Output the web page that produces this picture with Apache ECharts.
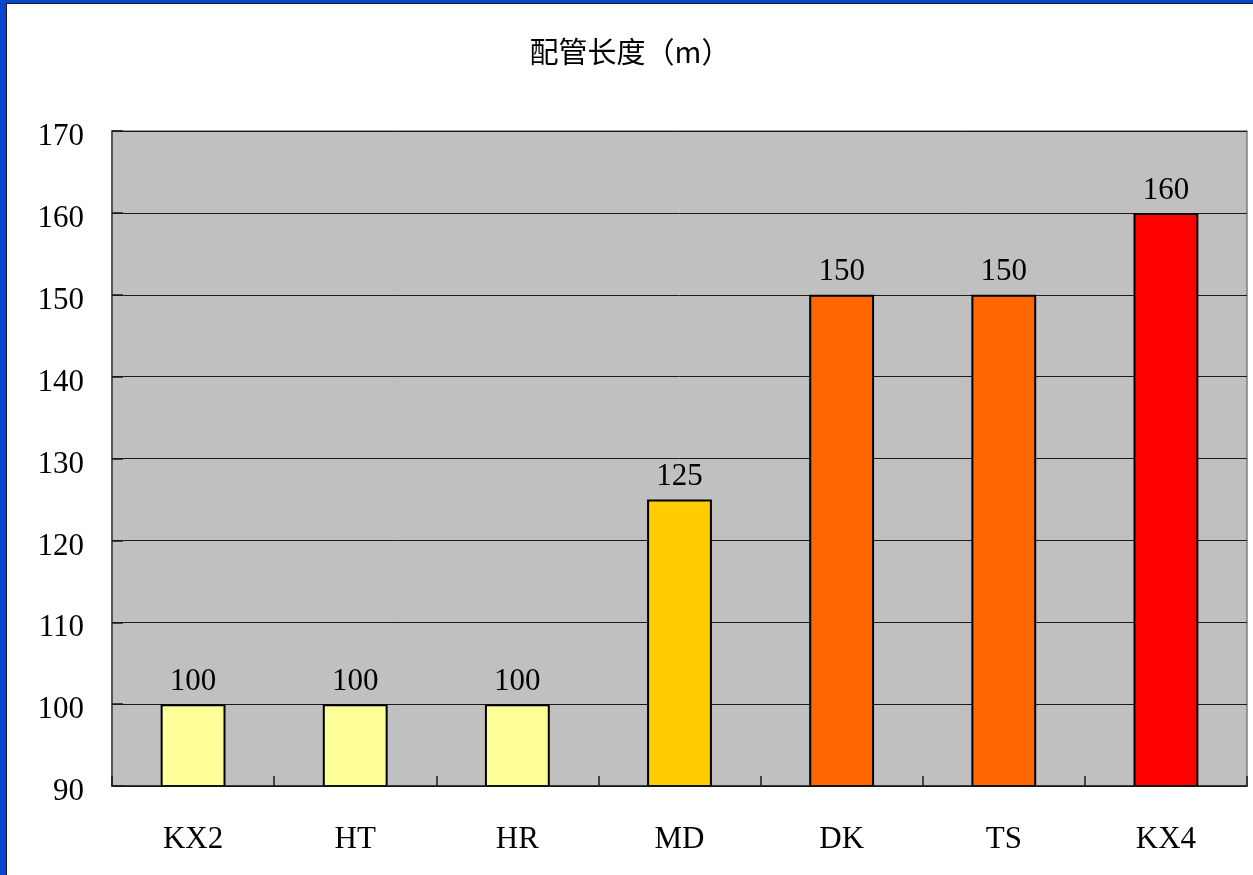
<!DOCTYPE html>
<html>
<head>
<meta charset="utf-8">
<script src="https://cdn.jsdelivr.net/npm/echarts@6/dist/echarts.min.js"></script>
<style>
  html, body { margin: 0; padding: 0; background: #0846CC; overflow: hidden; }
  #chart {
    position: absolute; left: 6px; top: 3px;
    width: 1247px; height: 872px;
    background: #ffffff;
    border-left: 1px solid #1a1a1a; border-top: 1px solid #1a1a1a;
    box-sizing: border-box;
  }
</style>
</head>
<body>
<div id="chart"></div>
<script>
// Pipe length per unit model
const categories = ['KX2', 'HT', 'HR', 'MD', 'DK', 'TS', 'KX4'];
const lengths = [100, 100, 100, 125, 150, 150, 160];
const barColors = ['#FFFF99', '#FFFF99', '#FFFF99', '#FFCC00', '#FF6600', '#FF6600', '#FF0000'];
const yMin = 90, yMax = 170, yStep = 10;

const fontFamily = '"Liberation Serif", "DejaVu Serif", "Noto Sans CJK SC", serif';

const chart = echarts.init(document.getElementById('chart'));
chart.setOption({
  animation: false,
  title: {
    text: '配管长度（m）',
    left: 'center',
    top: 28,
    textStyle: { fontFamily: '"Noto Sans CJK SC", serif', fontSize: 29, fontWeight: 'normal', color: '#000' }
  },
  grid: {
    left: 105, right: 6, top: 127, bottom: 89,
    show: true, backgroundColor: '#C0C0C0', borderColor: '#808080', borderWidth: 1.5
  },
  xAxis: {
    type: 'category',
    data: categories,
    z: 5,
    axisLine: { lineStyle: { color: '#1a1a1a', width: 1.5 } },
    axisTick: { show: true, inside: true, length: 10, lineStyle: { color: '#1a1a1a', width: 1.5 } },
    axisLabel: { margin: 38, fontFamily: fontFamily, fontSize: 31, color: '#000' }
  },
  yAxis: {
    type: 'value',
    min: yMin, max: yMax, interval: yStep,
    axisLine: { show: true, lineStyle: { color: '#404040', width: 1.5 } },
    axisTick: { show: true, inside: true, length: 11, lineStyle: { color: '#1a1a1a', width: 1.5 } },
    axisLabel: {
      margin: 28, fontFamily: fontFamily, fontSize: 31, color: '#000',
      verticalAlign: 'top', lineHeight: 12
    },
    splitLine: { show: true, lineStyle: { color: '#1a1a1a', width: 1 } }
  },
  series: [{
    type: 'bar',
    data: lengths.map((v, i) => ({ value: v, itemStyle: { color: barColors[i] } })),
    barWidth: '40%',
    itemStyle: { borderColor: '#000', borderWidth: 2 },
    label: {
      show: true, position: 'top', distance: 7,
      fontFamily: fontFamily, fontSize: 31, color: '#000'
    }
  }]
});
</script>
</body>
</html>
